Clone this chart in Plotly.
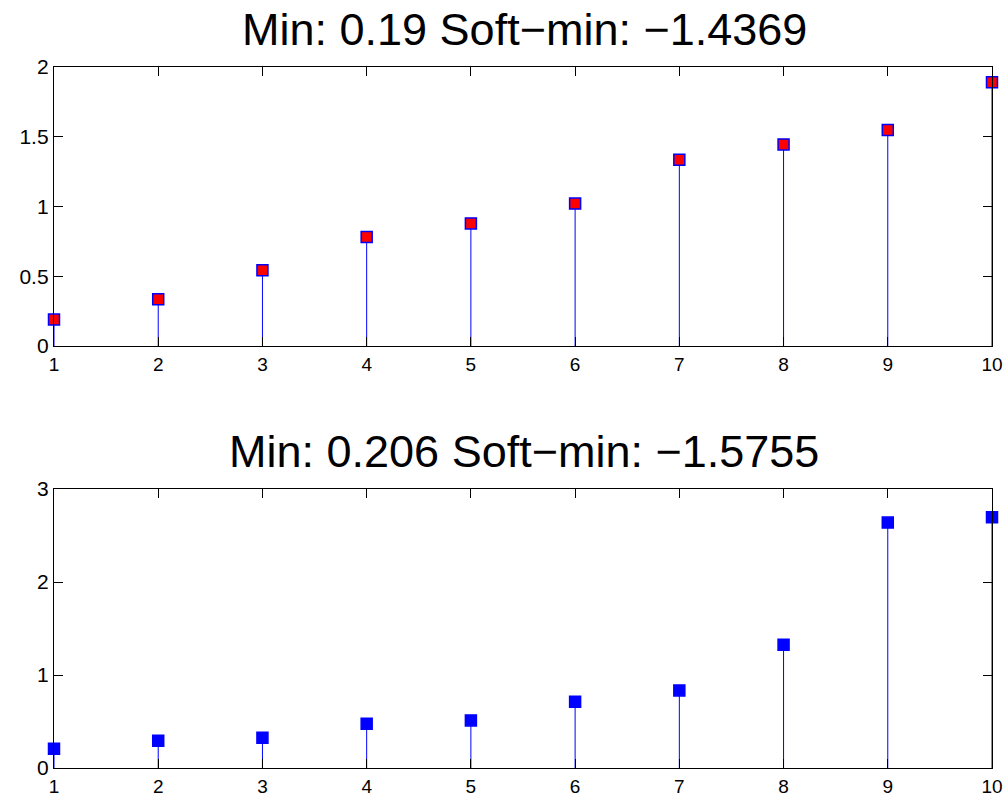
import plotly.graph_objects as go

x_vals = [1, 2, 3, 4, 5, 6, 7, 8, 9, 10]
top_vals = [0.19, 0.335, 0.543, 0.781, 0.879, 1.021, 1.336, 1.445, 1.548, 1.890]
bottom_vals = [0.206, 0.294, 0.326, 0.476, 0.512, 0.712, 0.834, 1.325, 2.639, 2.696]
top_title = "Min: 0.19 Soft\u2212min: \u22121.4369"
bottom_title = "Min: 0.206 Soft\u2212min: \u22121.5755"

W, H = 1008, 799
def px_x(p):
    return p / W
def px_y(p):
    return (H - p) / H

def stems(xs, ys):
    sx, sy = [], []
    for a, b in zip(xs, ys):
        sx += [a, a, None]
        sy += [0, b, None]
    return sx, sy

fig = go.Figure()
sx, sy = stems(x_vals, top_vals)
fig.add_trace(go.Scatter(x=sx, y=sy, mode="lines", line=dict(color="#0000ff", width=1),
                         xaxis="x", yaxis="y", hoverinfo="skip", showlegend=False))
fig.add_trace(go.Scatter(x=x_vals, y=top_vals, mode="markers", cliponaxis=False,
                         marker=dict(symbol="square", size=11, color="#ff0000",
                                     line=dict(color="#0000ff", width=1.5)),
                         xaxis="x", yaxis="y", showlegend=False))
sx2, sy2 = stems(x_vals, bottom_vals)
fig.add_trace(go.Scatter(x=sx2, y=sy2, mode="lines", line=dict(color="#0000ff", width=1),
                         xaxis="x2", yaxis="y2", hoverinfo="skip", showlegend=False))
fig.add_trace(go.Scatter(x=x_vals, y=bottom_vals, mode="markers", cliponaxis=False,
                         marker=dict(symbol="square", size=11, color="#0000ff",
                                     line=dict(color="#0000ff", width=1.5)),
                         xaxis="x2", yaxis="y2", showlegend=False))

axis_common = dict(showgrid=False, zeroline=False, showline=True, linecolor="black",
                   linewidth=1.3, mirror="ticks", ticks="inside", ticklen=9,
                   tickcolor="black", automargin=False)
x_font = dict(family="Liberation Sans, Arial", size=19, color="black")
y_font = dict(family="Liberation Sans, Arial", size=21, color="black")

x_dom = [px_x(54), px_x(992)]
fig.update_layout(
    template="none",
    width=W, height=H,
    margin=dict(l=0, r=0, t=0, b=0, pad=0),
    paper_bgcolor="white", plot_bgcolor="white",
    xaxis=dict(domain=x_dom, range=[1, 10], tickvals=x_vals, anchor="y",
               ticklabelstandoff=1, tickfont=x_font, **axis_common),
    yaxis=dict(domain=[px_y(346), px_y(67)], range=[0, 2], tickvals=[0, 0.5, 1, 1.5, 2],
               ticktext=["0", "0.5", "1", "1.5", "2"], anchor="x", tickfont=y_font, **axis_common),
    xaxis2=dict(domain=x_dom, range=[1, 10], tickvals=x_vals, anchor="y2",
                ticklabelstandoff=1, tickfont=x_font, **axis_common),
    yaxis2=dict(domain=[px_y(768), px_y(489)], range=[0, 3], tickvals=[0, 1, 2, 3],
                anchor="x2", tickfont=y_font, **axis_common),
    annotations=[
        dict(text=top_title, x=px_x(524), y=px_y(29), xref="paper", yref="paper",
             showarrow=False, xanchor="center", yanchor="middle",
             font=dict(family="Liberation Sans, Arial", size=45, color="black")),
        dict(text=bottom_title, x=px_x(524), y=px_y(451), xref="paper", yref="paper",
             showarrow=False, xanchor="center", yanchor="middle",
             font=dict(family="Liberation Sans, Arial", size=45, color="black")),
    ],
)
fig.write_html("out.html", config={"displayModeBar": False},
               post_script="document.body.style.margin='0';document.body.style.overflow='hidden';")
